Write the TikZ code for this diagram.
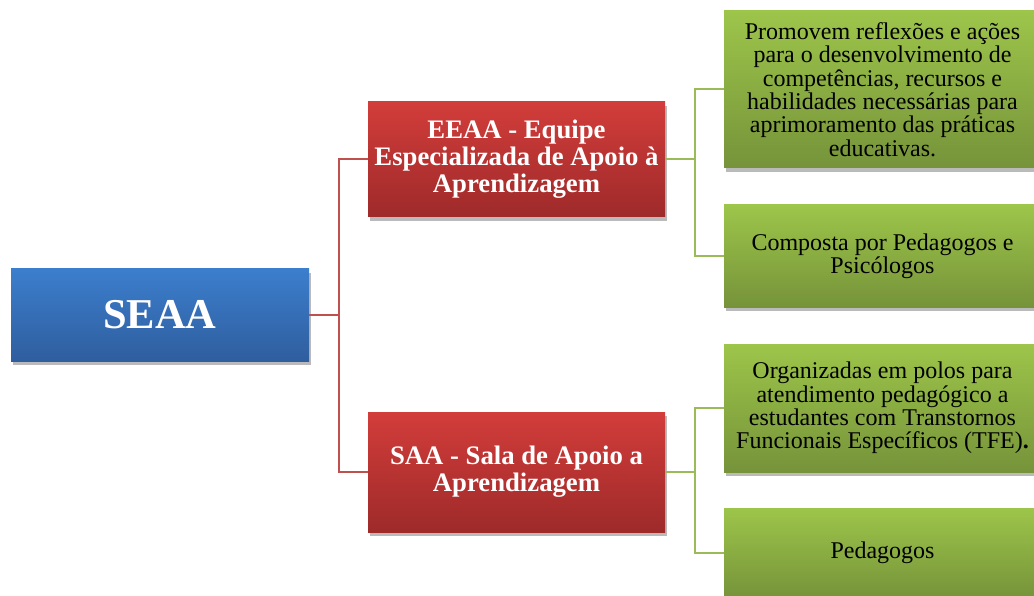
\documentclass[tikz,border=0pt]{standalone}
\usepackage{fontspec}
\setmainfont{Liberation Serif}
\usetikzlibrary{shadows}
\definecolor{bluetop}{HTML}{3C7ECD}
\definecolor{bluebot}{HTML}{2F5E9E}
\definecolor{redtop}{HTML}{D23D3A}
\definecolor{redbot}{HTML}{9E2A2A}
\definecolor{greentop}{HTML}{9DC54A}
\definecolor{greenbot}{HTML}{76933A}
\definecolor{redline}{HTML}{C0504D}
\definecolor{greenline}{HTML}{9BBB59}
\tikzset{
  boxbase/.style={rectangle, inner sep=2pt, align=center,
    drop shadow={shadow xshift=2pt, shadow yshift=-4pt, opacity=0.45, fill=black!60}},
  bluebox/.style={boxbase, top color=bluetop, bottom color=bluebot, text=white,
    font=\fontsize{42.5}{48}\selectfont\bfseries},
  redbox/.style={boxbase, top color=redtop, bottom color=redbot, text=white,
    font=\fontsize{26.7}{27}\selectfont\bfseries},
  greenbox/.style={boxbase, top color=greentop, bottom color=greenbot, text=black,
    font=\fontsize{24}{23.3}\selectfont},
  redconn/.style={draw=redline, line width=2pt},
  greenconn/.style={draw=greenline, line width=2pt},
}
\begin{document}
\begin{tikzpicture}[x=1pt,y=-1pt]
\useasboundingbox (0,0) rectangle (1034,596);
\clip (0,0) rectangle (1034,596);
\fill[white] (0,0) rectangle (1034,596);
\node[bluebox, minimum width=298pt, minimum height=92pt] (seaa) at (160,315) {SEAA};
\node[redbox, minimum width=297pt, minimum height=115pt] (eeaa) at (516.5,159.5) {EEAA - Equipe\\Especializada de Apoio à\\Aprendizagem};
\node[redbox, minimum width=297pt, minimum height=120pt] (saa) at (516.5,472) {SAA - Sala de Apoio a\\Aprendizagem};
\node[greenbox, minimum width=317pt, minimum height=157pt] (g1) at (882.5,89.5) {Promovem reflexões e ações\\para o desenvolvimento de\\competências, recursos e\\habilidades necessárias para\\aprimoramento das práticas\\educativas.};
\node[greenbox, minimum width=317pt, minimum height=102pt] (g2) at (882.5,256) {Composta por Pedagogos e\\Psicólogos};
\node[greenbox, minimum width=317pt, minimum height=128pt] (g3) at (882.5,408) {Organizadas em polos para\\atendimento pedagógico a\\estudantes com Transtornos\\Funcionais Específicos (TFE)\textbf{.}};
\node[greenbox, minimum width=317pt, minimum height=90pt] (g4) at (882.5,553) {Pedagogos};
\coordinate (rj) at (339,315);
\coordinate (gj1) at (695,159.5);
\coordinate (gj2) at (695,472);
\draw[redconn] (seaa.east) -- (rj) |- (eeaa.west);
\draw[redconn] (rj) |- (saa.west);
\draw[greenconn] (eeaa.east) -- (gj1) |- (g1.west);
\draw[greenconn] (gj1) |- (g2.west);
\draw[greenconn] (saa.east) -- (gj2) |- (g3.west);
\draw[greenconn] (gj2) |- (g4.west);
\end{tikzpicture}
\end{document}
